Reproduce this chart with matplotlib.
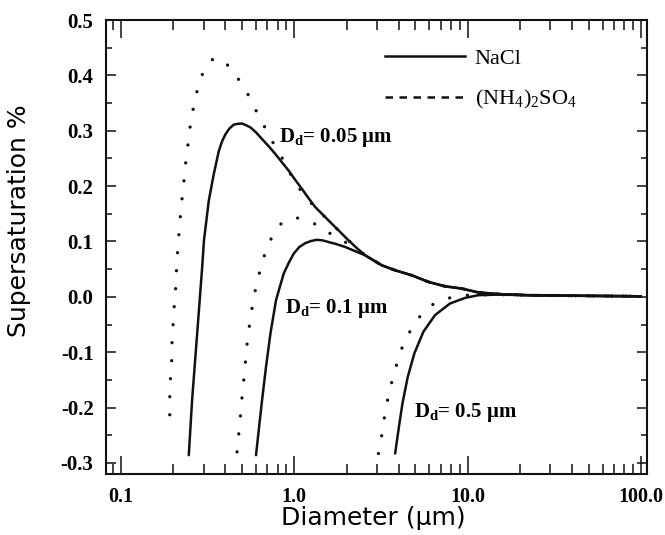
import matplotlib
matplotlib.use("Agg")
import matplotlib.pyplot as plt
from matplotlib.lines import Line2D
from matplotlib.ticker import MultipleLocator, LogLocator, NullFormatter

plt.rcParams["mathtext.default"] = "regular"

# Koehler curves: diameter (um) and supersaturation (%)
nacl_005_d = [0.246, 0.257, 0.275, 0.294, 0.301, 0.321, 0.343, 0.367, 0.383, 0.401,
              0.422, 0.447, 0.472, 0.499, 0.527, 0.558, 0.601, 0.651, 0.711, 0.777,
              0.848, 0.927, 1.013, 1.106, 1.209, 1.321, 1.475, 1.646, 1.840, 2.054,
              2.294, 2.563, 3.194, 3.815, 4.753, 5.933, 7.402, 9.224, 11.51, 15.0,
              22.0, 40.0, 100.0]
nacl_005_s = [-0.286, -0.187, -0.066, 0.054, 0.102, 0.174, 0.222, 0.264, 0.281, 0.294,
              0.304, 0.311, 0.3125, 0.313, 0.310, 0.306, 0.297, 0.285, 0.272, 0.258,
              0.243, 0.228, 0.211, 0.195, 0.178, 0.162, 0.147, 0.132, 0.117, 0.102,
              0.088, 0.075, 0.057, 0.048, 0.039, 0.027, 0.019, 0.015, 0.008, 0.005,
              0.003, 0.002, 0.001]

amm_005_d = [0.191, 0.191, 0.193, 0.196, 0.197, 0.200, 0.203, 0.207, 0.209, 0.212,
             0.216, 0.220, 0.225, 0.231, 0.236, 0.243, 0.250, 0.261, 0.275, 0.297,
             0.343, 0.415, 0.484, 0.546, 0.604, 0.681, 0.767, 0.860, 0.956, 1.083,
             1.291, 1.646, 2.054, 2.563, 3.194, 3.815, 4.753, 5.933, 7.402, 9.224,
             11.51, 15.0, 22.0, 40.0, 100.0]
amm_005_s = [-0.213, -0.180, -0.147, -0.114, -0.081, -0.047, -0.014, 0.019, 0.050, 0.082,
             0.115, 0.146, 0.178, 0.211, 0.242, 0.274, 0.306, 0.340, 0.373, 0.405,
             0.432, 0.418, 0.390, 0.363, 0.335, 0.304, 0.274, 0.248, 0.220, 0.193,
             0.164, 0.132, 0.102, 0.075, 0.057, 0.048, 0.039, 0.027, 0.019, 0.015,
             0.008, 0.005, 0.003, 0.002, 0.001]

nacl_01_d = [0.601, 0.623, 0.651, 0.686, 0.728, 0.784, 0.868, 0.927, 0.991, 1.069,
             1.157, 1.253, 1.349, 1.455, 1.576, 1.760, 1.966, 2.245, 2.563, 3.194,
             3.815, 4.753, 5.933, 7.402, 9.224, 11.51, 15.0, 22.0, 40.0, 100.0]
nacl_01_s = [-0.286, -0.241, -0.187, -0.127, -0.066, -0.006, 0.042, 0.061, 0.078, 0.090,
             0.097, 0.101, 0.103, 0.102, 0.099, 0.095, 0.090, 0.0825, 0.075, 0.057,
             0.048, 0.039, 0.027, 0.019, 0.015, 0.008, 0.005, 0.003, 0.002, 0.001]

amm_01_d = [0.467, 0.478, 0.489, 0.499, 0.511, 0.522, 0.534, 0.551, 0.570, 0.596,
            0.631, 0.675, 0.737, 0.838, 1.027, 1.291, 1.576, 1.966, 2.563, 3.194,
            3.815, 4.753, 5.933, 7.402, 9.224, 11.51, 15.0, 22.0, 40.0, 100.0]
amm_01_s = [-0.280, -0.247, -0.214, -0.181, -0.149, -0.118, -0.084, -0.051, -0.020, 0.013,
            0.045, 0.077, 0.106, 0.132, 0.143, 0.133, 0.116, 0.099, 0.075, 0.057,
            0.048, 0.039, 0.027, 0.019, 0.015, 0.008, 0.005, 0.003, 0.002, 0.001]

nacl_05_d = [3.815, 3.986, 4.202, 4.508, 4.927, 5.553, 6.482, 7.909, 9.650, 11.51,
             15.0, 22.0, 40.0, 100.0]
nacl_05_s = [-0.283, -0.241, -0.193, -0.145, -0.102, -0.063, -0.033, -0.012, -0.002, 0.003,
             0.004, 0.003, 0.002, 0.001]

amm_05_d = [3.057, 3.194, 3.311, 3.459, 3.647, 3.896, 4.202, 4.655, 5.314, 6.281,
            8.016, 10.08, 15.0, 22.0, 40.0, 100.0]
amm_05_s = [-0.283, -0.250, -0.217, -0.185, -0.154, -0.122, -0.090, -0.062, -0.035, -0.014,
            -0.001, 0.003, 0.004, 0.003, 0.002, 0.001]

xtick_vals = [0.1, 1.0, 10.0, 100.0]
xtick_labels = ["0.1", "1.0", "10.0", "100.0"]
ytick_vals = [-0.3, -0.2, -0.1, 0.0, 0.1, 0.2, 0.3, 0.4, 0.5]
ytick_labels = ["-0.3", "-0.2", "-0.1", "0.0", "0.1", "0.2", "0.3", "0.4", "0.5"]

serif = "Liberation Serif"
ink = "#111111"

fig = plt.figure(figsize=(6.65, 5.35), dpi=100)
ax = fig.add_axes([0.1594, 0.1140, 0.8135, 0.8486])

dotted = dict(color=ink, lw=2.4, linestyle=(0, (0.01, 5.4)), dash_capstyle="round")
solid = dict(color=ink, lw=1.8, solid_capstyle="round", solid_joinstyle="round")

for d, s in [(amm_005_d, amm_005_s), (amm_01_d, amm_01_s), (amm_05_d, amm_05_s)]:
    ax.plot(d, s, **dotted)
for d, s in [(nacl_005_d, nacl_005_s), (nacl_01_d, nacl_01_s), (nacl_05_d, nacl_05_s)]:
    ax.plot(d, s, **solid)

ax.set_xscale("log")
ax.set_xlim(0.0819, 108.3)
ax.set_ylim(-0.32, 0.5)

ax.set_xticks(xtick_vals)
ax.set_xticklabels(xtick_labels)
ax.xaxis.set_minor_locator(LogLocator(base=10, subs=range(2, 10), numticks=20))
ax.xaxis.set_minor_formatter(NullFormatter())
ax.set_yticks(ytick_vals)
ax.set_yticklabels(ytick_labels)
ax.yaxis.set_minor_locator(MultipleLocator(0.05))

for lab in ax.get_xticklabels():
    lab.set_fontfamily(serif)
    lab.set_fontweight("bold")
    lab.set_fontsize(14.5)
for lab in ax.get_yticklabels():
    lab.set_fontfamily(serif)
    lab.set_fontweight("bold")
    lab.set_fontsize(15)

ax.tick_params(axis="both", which="both", direction="in", top=True, right=True,
               width=1.1, color=ink)
ax.tick_params(axis="x", which="major", length=13, pad=9)
ax.tick_params(axis="x", which="minor", length=7)
ax.tick_params(axis="y", which="major", length=7.5, pad=9)
ax.tick_params(axis="y", which="minor", length=4)
for sp in ax.spines.values():
    sp.set_linewidth(1.5)
    sp.set_color(ink)

ax.set_ylabel("Supersaturation %", family="DejaVu Sans", fontsize=18)
ax.yaxis.set_label_coords(-0.139, 0.559)
ax.set_xlabel("Diameter (μm)", family="DejaVu Sans", fontsize=18)
ax.xaxis.set_label_coords(0.494, -0.07)

ann = dict(family=serif, fontweight="bold", fontsize=15, ha="left", va="baseline")
ax.text(0.812, 0.280, "D$_d$= 0.05 μm", **ann)
ax.text(0.879, -0.030, "D$_d$= 0.1 μm", **ann)
ax.text(4.93, -0.217, "D$_d$= 0.5 μm", **ann)

handles = [Line2D([], [], color=ink, lw=1.8),
           Line2D([], [], color=ink, lw=1.8, linestyle=(0, (3.0, 2.6)))]
ax.legend(handles, ["NaCl", "(NH$_4$)$_2$SO$_4$"], loc="upper left",
          bbox_to_anchor=(0.515, 0.938), frameon=False, handlelength=3.6,
          handletextpad=0.45, labelspacing=0.88, borderpad=0, borderaxespad=0,
          prop={"family": serif, "size": 16})

fig.savefig("out.png", dpi=100)
